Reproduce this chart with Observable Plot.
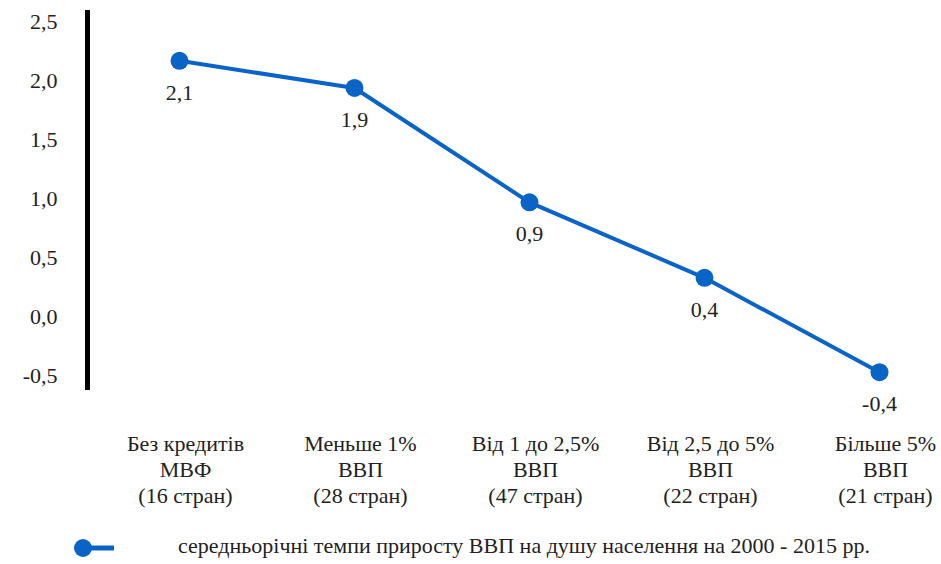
<!DOCTYPE html>
<html>
<head>
<meta charset="utf-8">
<script src="https://cdn.jsdelivr.net/npm/d3@7"></script>
<script src="https://cdn.jsdelivr.net/npm/@observablehq/plot@0.6"></script>
<style>
  html, body { margin: 0; padding: 0; background: #fff; }
  #chart { width: 941px; }
  .legend { position: relative; height: 44px; font-family: 'Liberation Serif', 'DejaVu Serif', serif; font-size: 22px; color: #222; }
  .legend svg { position: absolute; left: 70px; top: 16px; }
  .legend span { position: absolute; left: 178px; top: 13px; white-space: nowrap; }
</style>
</head>
<body>
<div id="chart"></div>
<script>
const categories = [
  "Без кредитів\nМВФ\n(16 стран)",
  "Меньше 1%\nВВП\n(28 стран)",
  "Від 1 до 2,5%\nВВП\n(47 стран)",
  "Від 2,5 до 5%\nВВП\n(22 стран)",
  "Більше 5%\nВВП\n(21 стран)"
];
const values = [2.17, 1.94, 0.97, 0.33, -0.47];
const valueLabels = ["2,1", "1,9", "0,9", "0,4", "-0,4"];
const yTicks = [-0.5, 0, 0.5, 1, 1.5, 2, 2.5];
const seriesName = "середньорічні темпи приросту ВВП на душу населення на 2000 - 2015 рр.";

const data = categories.map((c, i) => ({cat: c, value: values[i], label: valueLabels[i]}));
const blue = "#0a64c8";
const font = "'Liberation Serif', 'DejaVu Serif', serif";

const plot = Plot.plot({
  width: 941,
  height: 520,
  marginTop: 12,
  marginLeft: 87,
  marginRight: 61,
  marginBottom: 133,
  style: {fontFamily: font, fontSize: "22px", color: "#222", background: "#fff"},
  x: {type: "point", domain: categories, range: [177, 880], padding: 0, axis: null},
  y: {domain: [-0.6, 2.58], axis: null},
  marks: [
    Plot.axisY(yTicks, {
      tickSize: 0, tickPadding: 30, fontSize: 22, fontFamily: font,
      tickFormat: d => d.toFixed(1).replace(".", ","),
      label: null
    }),
    Plot.frame({anchor: "left", stroke: "#000", strokeWidth: 5}),
    Plot.line(data, {x: "cat", y: "value", stroke: blue, strokeWidth: 4}),
    Plot.dot(data, {x: "cat", y: "value", r: 9, fill: blue}),
    Plot.text(data, {x: "cat", y: "value", text: "label", dy: 32, fontSize: 22, fontFamily: font, fill: "#222"}),
    Plot.text(data, {x: "cat", text: "cat", frameAnchor: "bottom", dy: 45, dx: 6,
      lineAnchor: "top", lineHeight: 1.18, fontSize: 22, fontFamily: font, fill: "#222"})
  ]
});
document.getElementById("chart").appendChild(plot);

const legend = document.createElement("div");
legend.className = "legend";
legend.innerHTML = `<svg width="48" height="24"><line x1="12" y1="12" x2="44" y2="12" stroke="${blue}" stroke-width="5"/><circle cx="13" cy="12" r="9" fill="${blue}"/></svg><span></span>`;
legend.querySelector("span").textContent = seriesName;
document.getElementById("chart").appendChild(legend);
</script>
</body>
</html>
